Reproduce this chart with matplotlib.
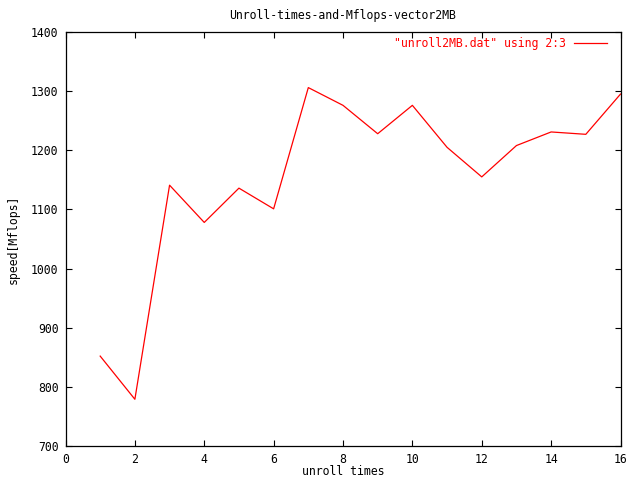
import matplotlib
matplotlib.use("Agg")
import matplotlib.pyplot as plt

unroll = [1, 2, 3, 4, 5, 6, 7, 8, 9, 10, 11, 12, 13, 14, 15, 16]
speed = [852, 779, 1141, 1078, 1136, 1101, 1306, 1276, 1228, 1276, 1205, 1155, 1208, 1231, 1227, 1295]
xticks = [0, 2, 4, 6, 8, 10, 12, 14, 16]
yticks = [700, 800, 900, 1000, 1100, 1200, 1300, 1400]

plt.rcParams['font.family'] = ['DejaVu Sans Mono']
fs = 8.3
fig = plt.figure(figsize=(6.4, 4.8), dpi=100)
ax = fig.add_axes([65.5/640, 1-446/480, 555/640, 414/480])
ax.plot(unroll, speed, color='red', lw=0.9, label='"unroll2MB.dat" using 2:3')
ax.set_xlim(0, 16)
ax.set_ylim(700, 1400)
ax.set_xticks(xticks)
ax.set_yticks(yticks)
ax.tick_params(direction='in', length=4.5, width=0.8, top=True, right=True, labelsize=fs, pad=5)
for s in ax.spines.values():
    s.set_linewidth(0.9)
ax.set_title('Unroll-times-and-Mflops-vector2MB', fontsize=fs, pad=9)
ax.set_xlabel('unroll times', fontsize=fs, labelpad=-1)
ax.set_ylabel('speed[Mflops]', fontsize=fs, labelpad=8)
leg = ax.legend(loc='upper right', frameon=False, markerfirst=False, fontsize=fs,
                labelcolor='red', handlelength=2.9, handletextpad=0.7,
                borderpad=0, borderaxespad=0, bbox_to_anchor=(0.9757, 0.988))
fig.savefig('out.png', dpi=100)
